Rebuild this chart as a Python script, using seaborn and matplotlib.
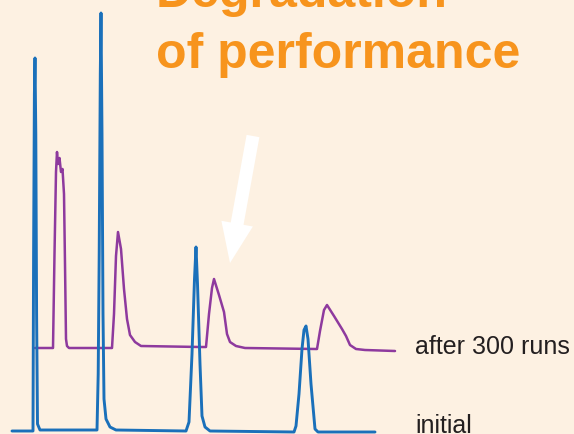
import matplotlib
matplotlib.use("Agg")
import matplotlib.pyplot as plt
from matplotlib.patches import FancyArrow
import seaborn as sns

# Chromatogram traces: (time, signal) vertices of each recorded trace
initial_time = [12, 33, 33.6, 34.4, 35, 35.8, 36.6, 37.5, 40, 97, 98.2, 99.2, 100.3, 101, 102, 103, 104, 106, 110, 116,
                186, 189, 192, 194.5, 196, 197.5, 200, 202, 205, 210, 294, 296, 299, 302, 304, 306, 308, 311, 315, 318, 375]
initial_signal = [3, 3, 180, 340, 376, 300, 120, 10, 4, 4, 60, 180, 360, 421, 300, 120, 35, 15, 7, 4,
                  3, 12, 80, 155, 187, 150, 70, 18, 7, 3, 2, 8, 40, 85, 104, 108, 95, 50, 5, 2, 2]

aged_time = [35, 53, 54.5, 56, 57, 58, 59.5, 61, 62.5, 64, 65, 66, 67, 69, 112,
             114, 116, 118, 121, 124, 127, 130, 135, 141, 200,
             206, 209, 212, 214, 219, 224, 227, 230, 236, 245, 316,
             317, 320, 324, 327, 334, 342, 346, 350, 356, 365, 395]
aged_signal = [86, 86, 180, 262, 282, 270, 276, 262, 265, 240, 170, 95, 88, 86, 86,
               120, 178, 202, 185, 145, 115, 99, 92, 88, 87,
               87, 120, 146, 155, 139, 122, 100, 92, 88, 86, 85,
               85, 103, 124, 129, 118, 105, 98, 89, 85, 84, 83]

trace_labels = ["after 300 runs", "initial"]
title_lines = ["Degradation", "of performance"]

BG = "#FDF1E2"
BLUE = "#1A70BA"
PURPLE = "#8E3A9E"
ORANGE = "#F7941D"
INK = "#231F20"

sns.set_theme(style="white")
plt.rcParams["font.family"] = ["Liberation Sans", "DejaVu Sans"]

fig = plt.figure(figsize=(5.74, 4.35), dpi=100, facecolor=BG)
ax = fig.add_axes([0, 0, 1, 1])
ax.set_facecolor(BG)

sns.lineplot(x=aged_time, y=aged_signal, sort=False, estimator=None, color=PURPLE, lw=1.8, ax=ax)
sns.lineplot(x=initial_time, y=initial_signal, sort=False, estimator=None, color=BLUE, lw=2.1, ax=ax)

ax.set_xlim(0, 574)
ax.set_ylim(0, 435)
ax.set_axis_off()

# Trace captions
ax.text(415, 81, trace_labels[0], fontsize=18, color=INK, va="baseline")
ax.text(415, 2, trace_labels[1], fontsize=18, color=INK, va="baseline")

# Headline
ax.text(156, 428, title_lines[0], fontsize=36, fontweight="bold", color=ORANGE, va="baseline")
ax.text(156, 367, title_lines[1], fontsize=36, fontweight="bold", color=ORANGE, va="baseline")

# Arrow pointing at the broadened peak
ax.add_patch(FancyArrow(253, 298, -23, -127, width=13, head_width=32, head_length=40,
                        length_includes_head=True, color="white", lw=0))

fig.savefig("out.png", dpi=100, facecolor=BG)
